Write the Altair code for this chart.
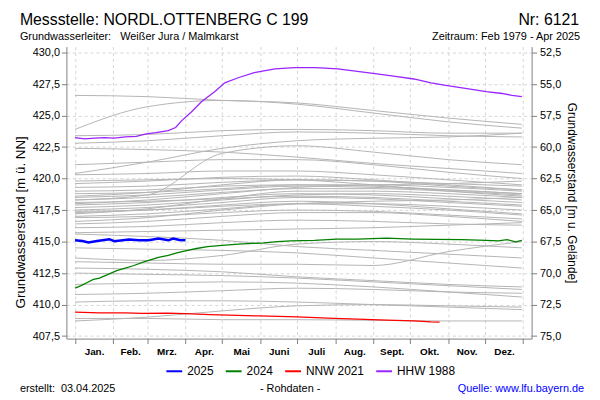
import altair as alt
import pandas as pd

FONT = "Liberation Sans"

# ---------------- texts ----------------
TITLE = "Messstelle: NORDL.OTTENBERG C 199"
NR = "Nr: 6121"
AQUIFER = "Grundwasserleiter:\u00a0\u00a0\u00a0Weißer Jura / Malmkarst"
PERIOD = "Zeitraum: Feb 1979 - Apr 2025"
CREATED = "erstellt:\u00a0\u00a003.04.2025"
RAW = "- Rohdaten -"
SOURCE = "Quelle: www.lfu.bayern.de"
Y_TITLE_LEFT = "Grundwasserstand [m ü. NN]"
Y_TITLE_RIGHT = "Grundwasserstand [m u. Gelände]"

MONTHS = ["Jan.", "Feb.", "Mrz.", "Apr.", "Mai", "Juni", "Juli", "Aug.", "Sept.", "Okt.", "Nov.", "Dez."]
MONTH_START = [0, 31, 59, 90, 120, 151, 181, 212, 243, 273, 304, 334, 365]
Y_TICKS = [407.5, 410.0, 412.5, 415.0, 417.5, 420.0, 422.5, 425.0, 427.5, 430.0]
R_TICKS = [52.5, 55.0, 57.5, 60.0, 62.5, 65.0, 67.5, 70.0, 72.5, 75.0]

# ---------------- highlighted series ----------------
SERIES = ["2025", "2024", "NNW 2021", "HHW 1988"]
COLORS = ["#0000ff", "#008000", "#ff0000", "#9a24ff"]

BLUE_DAYS = [0, 6, 11, 18, 28, 32, 44, 52, 60, 68, 76, 80, 85, 90]
BLUE_LEVELS = [415.1, 415.05, 414.93, 415.05, 415.19, 415.03, 415.16, 415.1, 415.11, 415.24, 415.1, 415.24, 415.12, 415.1]

GREEN_DAYS = [0, 5, 10, 15, 20, 27, 34, 41, 48, 55, 60, 68, 76, 83, 90, 99, 108, 120, 133, 145, 154, 165, 176,
              195, 213, 230, 254, 275, 294, 315, 335, 345, 352, 359, 364]
GREEN_LEVELS = [411.3, 411.5, 411.75, 412.0, 412.1, 412.4, 412.7, 412.9, 413.1, 413.35, 413.5, 413.75, 413.9,
                414.1, 414.27, 414.45, 414.6, 414.7, 414.8, 414.85, 414.9, 415.0, 415.05, 415.1, 415.2, 415.2,
                415.27, 415.2, 415.17, 415.15, 415.1, 415.05, 415.15, 414.98, 415.1]

RED_DAYS = [0, 20, 40, 55, 75, 90, 110, 150, 181, 211, 230, 254, 276, 290, 297]
RED_LEVELS = [409.4, 409.35, 409.35, 409.3, 409.32, 409.28, 409.2, 409.1, 409.02, 408.9, 408.85, 408.76,
              408.7, 408.62, 408.6]

PURPLE_DAYS = [0, 8, 16, 24, 32, 41, 50, 58, 66, 76, 82, 87, 95, 103, 114, 122, 133, 146, 163, 179, 196, 214,
               230, 246, 261, 276, 290, 302, 318, 335, 348, 356, 364]
PURPLE_LEVELS = [423.25, 423.15, 423.2, 423.25, 423.2, 423.3, 423.35, 423.55, 423.65, 423.8, 424.05, 424.6,
                 425.3, 426.1, 426.9, 427.6, 428.0, 428.4, 428.7, 428.8, 428.8, 428.7, 428.5, 428.3, 428.1,
                 427.9, 427.6, 427.4, 427.15, 426.9, 426.75, 426.6, 426.5]

# ---------------- gray yearly curves ----------------
GRAY_DAYS = [0, 59, 120, 181, 243, 304, 364]
GRAY_LINES = {
    "1980": [426.6, 426.5, 426.2, 426.0, 425.4, 424.8, 424.3],
    "1981": [423.9, 425.7, 426.2, 425.9, 425.2, 424.5, 424.0],
    "1982": [423.4, 423.5, 423.8, 423.9, 423.8, 423.6, 423.6],
    "1983": [422.8, 423.0, 423.4, 423.7, 423.6, 423.4, 423.3],
    "1984": [420.4, 421.3, 422.4, 423.0, 423.2, 423.3, 423.6],
    "1985": [418.3, 418.7, 422.0, 422.6, 422.1, 421.5, 421.1],
    "1986": [422.4, 422.3, 422.1, 421.7, 421.2, 420.8, 420.4],
    "1987": [421.1, 421.3, 421.5, 421.5, 421.1, 420.5, 420.0],
    "1989": [420.3, 420.4, 420.6, 420.6, 420.3, 419.9, 419.5],
    "1990": [419.6, 419.8, 420.1, 420.2, 419.9, 419.5, 419.1],
    "1991": [419.3, 419.4, 419.7, 419.9, 419.8, 419.6, 419.4],
    "1992": [419.0, 419.1, 419.4, 419.5, 419.4, 419.1, 418.8],
    "1993": [418.8, 418.9, 419.2, 419.5, 419.5, 419.3, 419.0],
    "1994": [418.5, 418.7, 419.1, 419.4, 419.3, 419.1, 418.8],
    "1995": [418.3, 418.5, 418.9, 419.2, 419.2, 419.0, 418.7],
    "1996": [418.0, 418.3, 418.8, 419.3, 419.5, 419.6, 419.8],
    "1997": [417.9, 418.1, 418.5, 418.8, 418.7, 418.4, 418.1],
    "1998": [417.7, 417.9, 418.3, 418.7, 418.8, 418.6, 418.3],
    "1999": [417.5, 417.7, 418.1, 418.5, 418.4, 418.1, 417.8],
    "2000": [417.4, 417.5, 417.8, 418.0, 418.0, 417.8, 417.5],
    "2001": [417.3, 417.5, 417.9, 418.2, 418.0, 417.6, 417.2],
    "2002": [417.0, 417.2, 417.6, 418.0, 417.8, 417.5, 417.1],
    "2003": [416.9, 417.0, 417.3, 417.5, 417.4, 417.1, 416.8],
    "2004": [416.6, 416.9, 417.5, 418.0, 418.2, 418.3, 418.5],
    "2005": [416.1, 416.2, 416.5, 416.7, 416.6, 416.4, 416.3],
    "2006": [415.7, 415.8, 415.9, 416.0, 416.1, 416.3, 416.5],
    "2007": [415.6, 415.4, 415.1, 414.6, 414.3, 414.0, 413.7],
    "2008": [414.5, 414.4, 414.3, 414.1, 413.7, 413.3, 412.9],
    "2009": [413.7, 413.5, 413.9, 414.8, 415.0, 414.8, 414.5],
    "2010": [413.4, 413.3, 413.2, 413.2, 413.1, 414.2, 415.0],
    "2011": [412.9, 412.8, 412.6, 412.2, 411.9, 411.6, 411.4],
    "2012": [412.5, 412.4, 412.3, 412.1, 411.8, 411.5, 411.2],
    "2013": [411.6, 411.7, 411.8, 411.7, 411.4, 411.0, 410.6],
    "2014": [410.8, 410.9, 411.1, 411.3, 411.2, 411.0, 410.9],
    "2015": [410.2, 410.3, 410.3, 410.2, 410.0, 409.8, 409.6],
    "2016": [408.7, 409.0, 409.5, 409.9, 410.0, 409.9, 409.8],
    "2017": [408.9, 408.9, 408.8, 408.8, 408.75, 408.7, 408.7],
    "2018": [419.8, 419.9, 420.0, 419.9, 419.5, 419.0, 418.6],
    "2019": [418.6, 418.9, 419.5, 419.9, 419.8, 419.4, 419.1],
    "2020": [417.2, 417.6, 418.4, 419.0, 419.0, 418.8, 418.5],
    "2022": [416.4, 416.6, 417.0, 417.3, 417.3, 417.0, 416.6],
    "2023": [418.1, 418.2, 418.4, 418.6, 418.5, 418.2, 417.9],
}

gray_rows = []
for year, vals in GRAY_LINES.items():
    for d, v in zip(GRAY_DAYS, vals):
        gray_rows.append({"year": year, "day": d, "level": v})
gray_df = pd.DataFrame(gray_rows)

hl_rows = []
for name, days, levels in [("HHW 1988", PURPLE_DAYS, PURPLE_LEVELS),
                           ("NNW 2021", RED_DAYS, RED_LEVELS),
                           ("2024", GREEN_DAYS, GREEN_LEVELS),
                           ("2025", BLUE_DAYS, BLUE_LEVELS)]:
    for d, v in zip(days, levels):
        hl_rows.append({"series": name, "day": d, "level": v})
hl_df = pd.DataFrame(hl_rows)

right_df = pd.DataFrame({"depth": R_TICKS, "day": [0] * len(R_TICKS)})

# ---------------- axes ----------------
mids = [(MONTH_START[i] + MONTH_START[i + 1]) / 2 for i in range(12)]
bounds_str = ",".join(str(b) for b in MONTH_START)
mids_str = ",".join(repr(m) for m in mids)
names_str = ",".join("'" + m + "'" for m in MONTHS)
is_bound = f"indexof([{bounds_str}], datum.value) >= 0"

x_axis = alt.Axis(
    values=sorted(MONTH_START + mids),
    labelExpr=f"[{names_str}][indexof([{mids_str}], datum.value)] || ''",
    labelOverlap=False, labelFlush=False,
    tickOpacity={"condition": {"test": is_bound, "value": 1}, "value": 0},
    gridOpacity={"condition": {"test": is_bound, "value": 1}, "value": 0},
    grid=True, gridDash=[3, 3], gridColor="#d4d4d4",
    tickColor="#808080", domainColor="#808080", tickSize=5,
    labelPadding=3, labelFontSize=10, labelFontWeight="bold", title=None,
)
X = alt.X("day:Q", scale=alt.Scale(domain=[-7, 372], nice=False, zero=False), axis=x_axis)

y_axis = alt.Axis(
    values=Y_TICKS,
    labelExpr="replace(format(datum.value, '.1f'), '.', ',')",
    grid=True, gridDash=[3, 3], gridColor="#d4d4d4",
    domainColor="#808080", tickColor="#808080", tickSize=5,
    labelFontSize=11, labelPadding=2,
    title=Y_TITLE_LEFT, titleFontSize=13.5, titleFontWeight="normal", titlePadding=5,
    titleY=177,
)
Y = alt.Y("level:Q", scale=alt.Scale(domain=[407.3, 430.47], nice=False, zero=False), axis=y_axis)

y_right_axis = alt.Axis(
    orient="right", values=R_TICKS,
    labelExpr="replace(format(datum.value, '.1f'), '.', ',')",
    grid=False, domainColor="#808080", tickColor="#808080", tickSize=5,
    labelFontSize=11, labelPadding=3,
    title=Y_TITLE_RIGHT, titleFontSize=12, titleFontWeight="normal", titlePadding=4,
)
Y_R = alt.Y("depth:Q", scale=alt.Scale(domain=[52.03, 75.2], reverse=True, nice=False, zero=False),
            axis=y_right_axis)

# ---------------- layers ----------------
gray = alt.Chart(gray_df).mark_line(color="#b4b4b4", strokeWidth=1, interpolate="monotone").encode(
    x=X, y=Y, detail="year:N"
)

hl = alt.Chart(hl_df).mark_line().encode(
    x=X, y=Y,
    color=alt.Color("series:N", scale=alt.Scale(domain=SERIES, range=COLORS),
                    legend=alt.Legend(title=None, orient="none", legendX=100, legendY=319,
                                      direction="horizontal", symbolType="stroke",
                                      symbolStrokeWidth=2, symbolSize=256,
                                      labelFontSize=12, labelFont=FONT, labelColor="black",
                                      columnPadding=8, labelOffset=4)),
    strokeWidth=alt.condition(alt.datum.series == "2025", alt.value(2.5), alt.value(1.3)),
)

inner = alt.layer(gray, hl)

right = alt.Chart(right_df).mark_point(opacity=0).encode(x=X, y=Y_R)


def txt(s, x, y, size, align="left", color="black", weight="normal"):
    return alt.Chart(alt.Data(values=[{"k": 0}])).mark_text(
        align=align, baseline="alphabetic", fontSize=size, font=FONT, color=color, fontWeight=weight
    ).encode(x=alt.value(x), y=alt.value(y), text=alt.value(s))


texts = [
    txt(TITLE, -47, -22, 16),
    txt(NR, 518, -22, 16, align="right"),
    txt(AQUIFER, -47, -7, 11),
    txt(PERIOD, 519, -7, 11, align="right"),
    txt(CREATED, -47, 349, 11),
    txt(RAW, 226, 349, 11, align="center"),
    txt(SOURCE, 523, 349, 11, align="right", color="#0000ff"),
]

chart = alt.layer(inner, right, *texts).resolve_scale(y="independent").properties(
    width=470, height=295,
    autosize=alt.AutoSizeParams(type="none"),
    padding={"left": 59, "top": 37, "right": 61, "bottom": 58},
).configure_view(stroke=None).configure_axis(
    labelFont=FONT, titleFont=FONT, labelColor="black", titleColor="black"
)

chart.save("out.html", embed_options={"renderer": "svg", "actions": False})
